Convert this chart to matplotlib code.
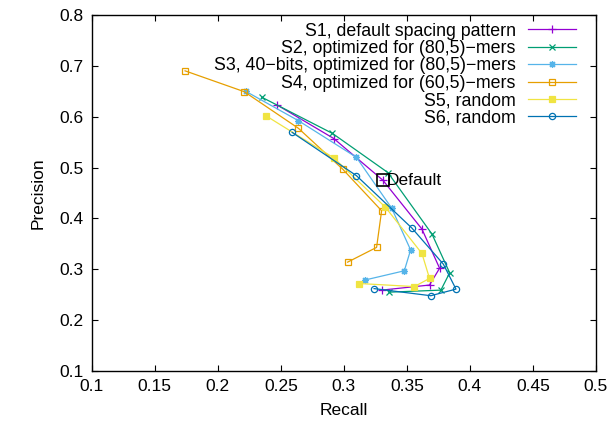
import matplotlib
matplotlib.use("Agg")
import matplotlib.pyplot as plt

plt.rcParams['font.family'] = ['Liberation Sans', 'DejaVu Sans']

labels = ["S1, default spacing pattern",
          "S2, optimized for (80,5)\u2212mers",
          "S3, 40\u2212bits, optimized for (80,5)\u2212mers",
          "S4, optimized for (60,5)\u2212mers",
          "S5, random",
          "S6, random"]

s1_recall = [0.247, 0.292, 0.331, 0.362, 0.376, 0.368, 0.330]
s1_prec   = [0.623, 0.557, 0.475, 0.379, 0.302, 0.269, 0.259]
s2_recall = [0.235, 0.291, 0.335, 0.370, 0.384, 0.377, 0.336]
s2_prec   = [0.638, 0.567, 0.490, 0.369, 0.293, 0.259, 0.255]
s3_recall = [0.222, 0.264, 0.310, 0.338, 0.353, 0.348, 0.317]
s3_prec   = [0.650, 0.592, 0.520, 0.420, 0.338, 0.297, 0.279]
s4_recall = [0.174, 0.221, 0.264, 0.299, 0.330, 0.326, 0.303]
s4_prec   = [0.690, 0.649, 0.577, 0.497, 0.415, 0.343, 0.314]
s5_recall = [0.238, 0.292, 0.333, 0.362, 0.368, 0.356, 0.312]
s5_prec   = [0.602, 0.519, 0.422, 0.331, 0.282, 0.266, 0.272]
s6_recall = [0.259, 0.310, 0.354, 0.379, 0.389, 0.369, 0.324]
s6_prec   = [0.569, 0.484, 0.381, 0.310, 0.261, 0.248, 0.262]

default_point = (0.331, 0.475)

xticks = [0.1, 0.15, 0.2, 0.25, 0.3, 0.35, 0.4, 0.45, 0.5]
yticks = [0.1, 0.2, 0.3, 0.4, 0.5, 0.6, 0.7, 0.8]

colors = ["#9400d3", "#009e73", "#56b4e9", "#e69f00", "#f0e442", "#0072b2"]
markers = ["+", "x", (8, 2, 0), "s", "s", "o"]
mfcs = [None, None, None, "none", "#f0e442", "none"]
msizes = [6, 4.5, 5, 5, 5, 4.5]

series = [(s1_recall, s1_prec), (s2_recall, s2_prec), (s3_recall, s3_prec),
          (s4_recall, s4_prec), (s5_recall, s5_prec), (s6_recall, s6_prec)]

fig = plt.figure(figsize=(6.08, 4.25), dpi=100)
ax = fig.add_axes([0.151, 0.127, 0.829, 0.838])

for (xs, ys), lab, c, m, mfc, ms in zip(series, labels, colors, markers, mfcs, msizes):
    kw = dict(color=c, lw=0.9, marker=m, markersize=ms, markeredgewidth=0.9, label=lab)
    if mfc is not None:
        kw['markerfacecolor'] = mfc
    ax.plot(xs, ys, **kw)

ax.plot([default_point[0]], [default_point[1]], marker="s", markersize=9,
        markerfacecolor="none", markeredgecolor="black", markeredgewidth=1.2, ls="none")
ax.annotate("Default", xy=default_point, xytext=(3, 0), textcoords="offset points",
            ha="left", va="center", fontsize=12.5)

ax.set_xlim(0.1, 0.5)
ax.set_ylim(0.1, 0.8)
ax.set_xticks(xticks)
ax.set_xticklabels([f"{v:g}" for v in xticks])
ax.set_yticks(yticks)
ax.set_yticklabels([f"{v:g}" for v in yticks])
ax.tick_params(direction="in", length=4, width=0.8, top=True, right=True,
               labelsize=12.5, pad=6)
ax.set_xlabel("Recall", fontsize=12.5, labelpad=6)
ax.set_ylabel("Precision", fontsize=12.5, labelpad=10)
for sp in ax.spines.values():
    sp.set_linewidth(1.0)

leg = ax.legend(loc="upper right", frameon=False, markerfirst=False, fontsize=12.8,
                handlelength=2.7, labelspacing=0.02, borderaxespad=0.0,
                handletextpad=0.7, bbox_to_anchor=(0.975, 0.998))
try:
    for col in leg._legend_handle_box.get_children():
        col.align = "right"
except Exception:
    pass

fig.savefig("out.png", dpi=100)
